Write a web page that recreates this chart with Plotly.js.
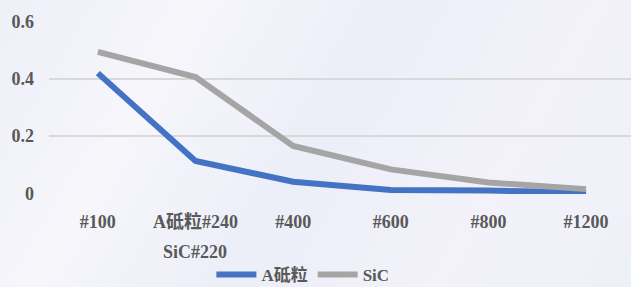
<!DOCTYPE html>
<html>
<head>
<meta charset="utf-8">
<script src="https://cdn.plot.ly/plotly-3.0.1.min.js"></script>
<style>
html,body{margin:0;padding:0;width:631px;height:287px;overflow:hidden;}
body{background:linear-gradient(120deg,#eef0f8 0%,#f6f6fb 25%,#eceef8 50%,#f3f2fa 75%,#eef0f8 100%);}
#chart{width:631px;height:287px;}
</style>
</head>
<body>
<div id="chart"></div>
<script>
const categories = ["#100", "A砥粒#240", "#400", "#600", "#800", "#1200"];
const secondLineLabel = "SiC#220";
const seriesNames = ["A砥粒", "SiC"];
const aGrit = [0.42, 0.113, 0.041, 0.012, 0.010, 0.004];
const sic = [0.494, 0.406, 0.166, 0.084, 0.038, 0.015];
const yTicks = [0, 0.2, 0.4, 0.6];
const yTickText = ["0", "0.2", "0.4", "0.6"];

const font = {family: "'Liberation Serif', 'Noto Sans CJK SC', serif", size: 18, color: "#595959"};
const xIdx = categories.map((c, i) => i);

const traces = [
  {x: xIdx, y: aGrit, name: seriesNames[0], type: "scatter", mode: "lines",
   line: {color: "#4472C4", width: 6}},
  {x: xIdx, y: sic, name: seriesNames[1], type: "scatter", mode: "lines",
   line: {color: "#A5A5A5", width: 6}}
];

const layout = {
  width: 631, height: 287,
  margin: {l: 49, r: 0, t: 21, b: 93},
  paper_bgcolor: "rgba(0,0,0,0)",
  plot_bgcolor: "rgba(0,0,0,0)",
  font: font,
  xaxis: {
    type: "linear", range: [-0.5, 5.46],
    tickvals: xIdx, ticktext: categories,
    showgrid: false, zeroline: false, showline: false, ticks: "",
    tickfont: {family: font.family, size: 18, color: "#595959", weight: "bold"},
    ticklabelstandoff: 15, fixedrange: true, automargin: false
  },
  yaxis: {
    range: [-0.002, 0.602],
    tickvals: yTicks, ticktext: yTickText,
    showgrid: true, gridcolor: "#d9d9d9", gridwidth: 1.5,
    zeroline: false, showline: false, ticks: "",
    tickfont: {family: font.family, size: 18, color: "#595959", weight: "bold"},
    ticklabelstandoff: 14, fixedrange: true, automargin: false
  },
  showlegend: true,
  legend: {
    orientation: "h", xref: "container", yref: "container",
    x: 0.48, xanchor: "center", y: 0.042, yanchor: "middle",
    font: {family: font.family, size: 17, color: "#595959", weight: "bold"},
    bgcolor: "rgba(0,0,0,0)", itemwidth: 40, traceorder: "normal"
  },
  annotations: [
    {x: 1, y: -0.335, xref: "x", yref: "paper", text: secondLineLabel, showarrow: false,
     xanchor: "center", yanchor: "middle",
     font: {family: font.family, size: 18, color: "#595959", weight: "bold"}}
  ]
};

Plotly.newPlot("chart", traces, layout, {displayModeBar: false, staticPlot: true});
</script>
</body>
</html>
